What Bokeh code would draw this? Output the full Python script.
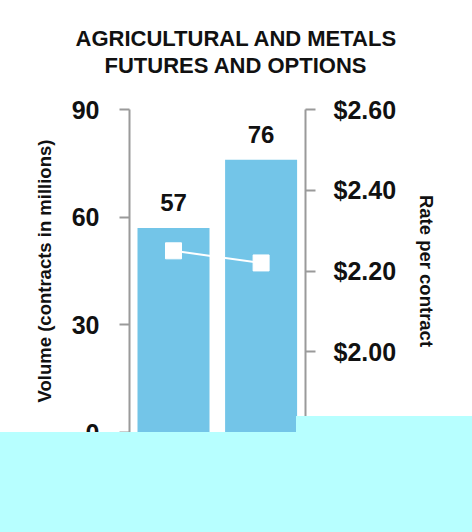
from bokeh.plotting import figure
from bokeh.models import Range1d, LinearAxis, FixedTicker, ColumnDataSource, Title
from bokeh.embed import file_html
from bokeh.resources import INLINE
from bokeh.core.properties import value

# ---- data ----
categories = ["A", "B"]
volume = [57, 76]
volume_labels = ["57", "76"]
rate = [2.25, 2.22]
left_ticks = [0, 30, 60, 90]
right_ticks = [1.80, 2.00, 2.20, 2.40, 2.60]
right_tick_labels = {1.8: "", 2.0: "$2.00", 2.2: "$2.20", 2.4: "$2.40", 2.6: "$2.60"}
title_lines = ["AGRICULTURAL AND METALS", "FUTURES AND OPTIONS"]

FONT = "Liberation Sans"
BAR = "#73c5e8"
AX = "#9a9a9a"
INK = "#111111"

p = figure(width=472, height=530, x_range=Range1d(0, 2.2), y_range=Range1d(0, 90),
           output_backend="svg", toolbar_location=None,
           min_border_left=129, min_border_right=167, min_border_top=109, min_border_bottom=98)
p.title = None


def title(text, offset=0, standoff=0):
    return Title(text=text, align="left", offset=offset, text_font=FONT,
                 text_font_size="22px", text_font_style="bold", text_color=INK,
                 standoff=standoff)


# spacer next to the plot, then the lower title line, then the upper one
p.add_layout(title(" ", standoff=5), "above")
p.add_layout(title(title_lines[1], offset=-25), "above")
p.add_layout(title(title_lines[0], offset=-54), "above")

p.outline_line_color = None
p.background_fill_color = "white"
p.border_fill_color = "white"
p.xgrid.visible = False
p.ygrid.visible = False
p.xaxis.visible = False

xs = [0.55, 1.645]
src = ColumnDataSource(dict(x=xs, vol=volume, lab=volume_labels, rate=rate))

p.vbar(x="x", top="vol", width=0.9, bottom=0, source=src, color=BAR, line_color=None)
p.text(x="x", y="vol", text="lab", source=src, text_align="center", text_baseline="bottom",
       y_offset=-17, text_font=value(FONT), text_font_size="24px", text_font_style="bold",
       text_color=INK)

p.extra_y_ranges = {"rate": Range1d(1.80, 2.60)}
p.line(x="x", y="rate", source=src, y_range_name="rate", line_color="white", line_width=2)
p.scatter(x="x", y="rate", source=src, y_range_name="rate", marker="square", size=16,
          fill_color="white", line_color="white")


def style(ax):
    ax.axis_line_color = AX
    ax.axis_line_width = 2
    ax.major_tick_line_color = AX
    ax.major_tick_line_width = 2
    ax.major_tick_out = 10
    ax.major_tick_in = 0
    ax.minor_tick_line_color = None
    ax.major_label_text_font = FONT
    ax.major_label_text_font_size = "25px"
    ax.major_label_text_font_style = "bold"
    ax.major_label_text_color = INK
    ax.axis_label_text_font = FONT
    ax.axis_label_text_font_size = "18.5px"
    ax.axis_label_text_font_style = "bold"
    ax.axis_label_text_color = INK


ya = p.yaxis[0]
ya.ticker = FixedTicker(ticks=left_ticks)
ya.axis_label = "Volume (contracts in millions)"
style(ya)
ya.major_label_standoff = 20
ya.axis_label_standoff = 14

ra = LinearAxis(y_range_name="rate", ticker=FixedTicker(ticks=right_ticks),
                axis_label="Rate per contract")
ra.major_label_overrides = right_tick_labels
style(ra)
ra.major_label_standoff = 18
ra.axis_label_standoff = 17
p.add_layout(ra, "right")

html = file_html(p, INLINE)
# light-cyan band that covers the bottom of the reference picture
overlay = (
    '<style>body{margin:0}</style>'
    '<div style="position:absolute;left:0;top:432px;width:472px;height:100px;'
    'background:#b7ffff;z-index:50"></div>'
    '<div style="position:absolute;left:296px;top:416px;width:176px;height:116px;'
    'background:#b7ffff;z-index:50"></div>'
)
html = html.replace("</body>", overlay + "</body>")
open("out.html", "w").write(html)
